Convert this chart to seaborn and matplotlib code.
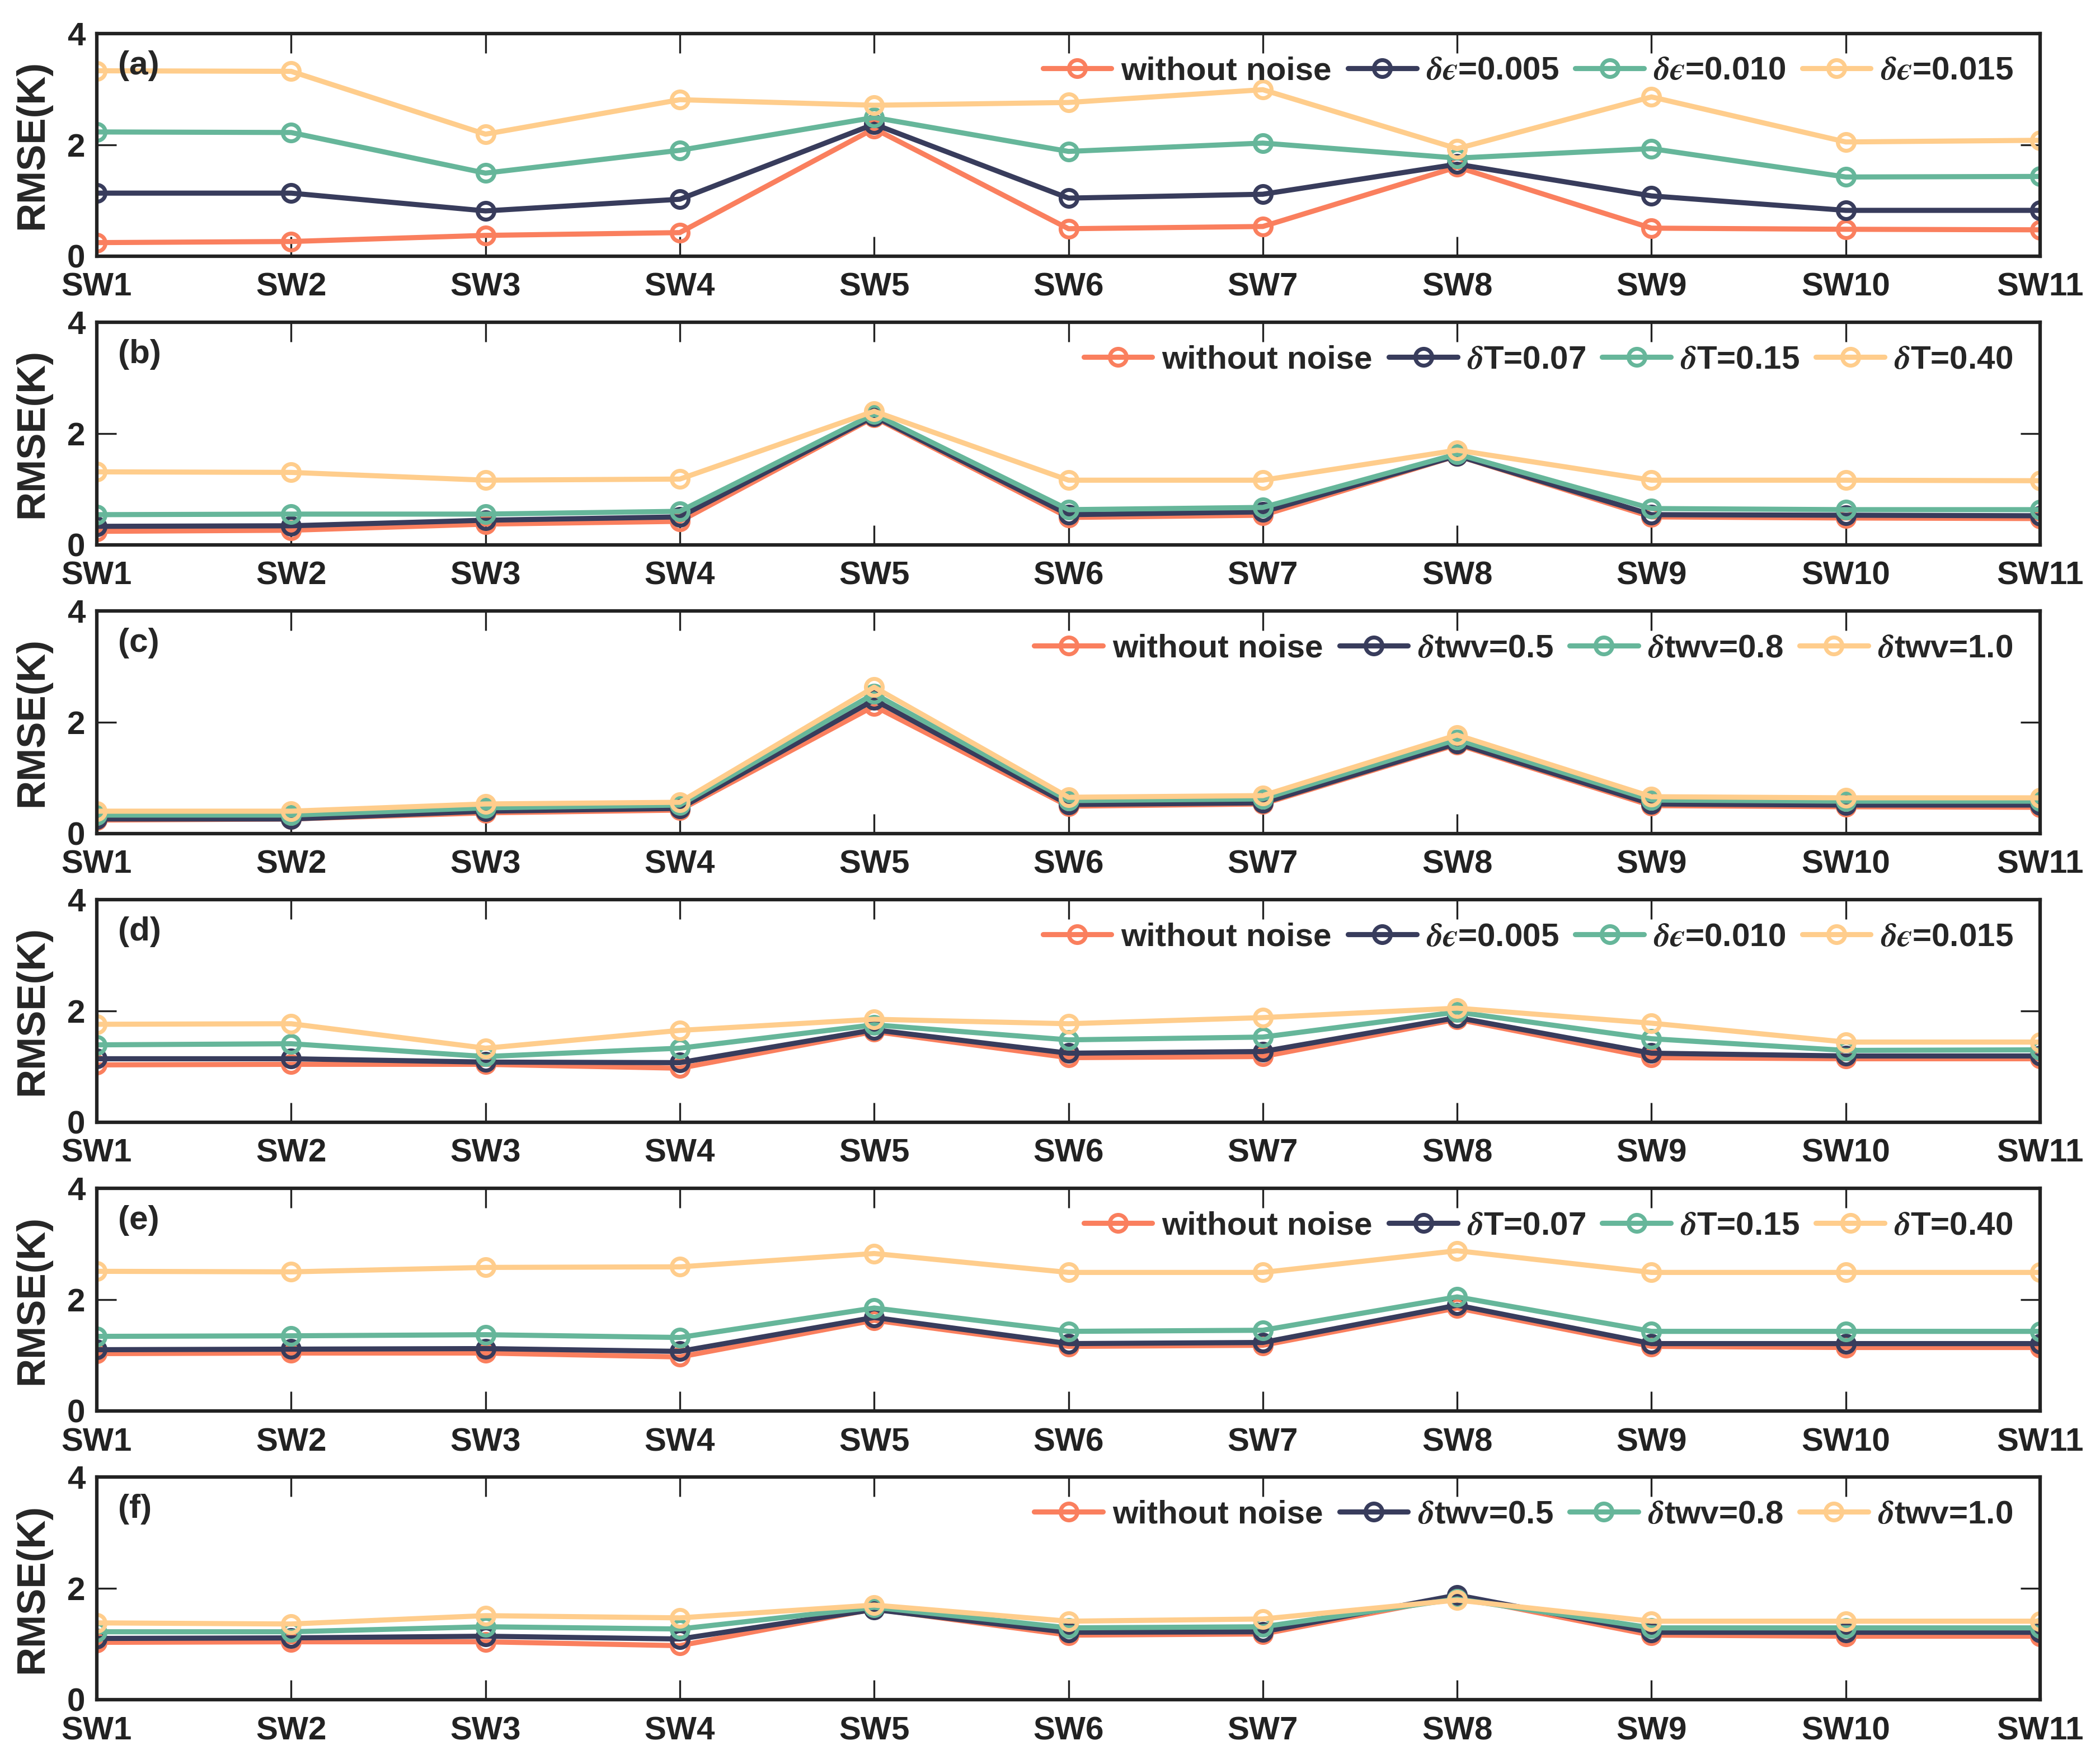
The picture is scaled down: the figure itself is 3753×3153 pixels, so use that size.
import numpy as np
import pandas as pd
import seaborn as sns
import matplotlib.pyplot as plt

# channels on the x axis
channels = ["SW1", "SW2", "SW3", "SW4", "SW5", "SW6", "SW7", "SW8", "SW9", "SW10", "SW11"]

# RMSE (K)
wo_noise_abc = [0.24, 0.26, 0.37, 0.42, 2.29, 0.49, 0.53, 1.60, 0.50, 0.48, 0.47]
wo_noise_def = [1.03, 1.04, 1.04, 0.97, 1.63, 1.16, 1.18, 1.85, 1.16, 1.14, 1.14]

a_eps005 = [1.13, 1.13, 0.81, 1.02, 2.37, 1.04, 1.11, 1.65, 1.08, 0.82, 0.82]
a_eps010 = [2.23, 2.22, 1.49, 1.90, 2.49, 1.88, 2.03, 1.76, 1.93, 1.42, 1.43]
a_eps015 = [3.33, 3.32, 2.19, 2.81, 2.71, 2.76, 2.99, 1.93, 2.86, 2.05, 2.08]

b_t007 = [0.33, 0.34, 0.44, 0.50, 2.31, 0.54, 0.59, 1.60, 0.54, 0.53, 0.52]
b_t015 = [0.54, 0.55, 0.55, 0.60, 2.35, 0.63, 0.67, 1.63, 0.65, 0.63, 0.63]
b_t040 = [1.31, 1.30, 1.16, 1.18, 2.40, 1.16, 1.16, 1.70, 1.16, 1.16, 1.15]

c_twv05 = [0.26, 0.26, 0.40, 0.45, 2.40, 0.52, 0.55, 1.62, 0.53, 0.51, 0.51]
c_twv08 = [0.33, 0.33, 0.46, 0.51, 2.51, 0.59, 0.62, 1.69, 0.60, 0.58, 0.58]
c_twv10 = [0.40, 0.40, 0.53, 0.56, 2.63, 0.65, 0.68, 1.77, 0.66, 0.64, 0.64]

d_eps005 = [1.14, 1.14, 1.08, 1.07, 1.66, 1.24, 1.27, 1.88, 1.24, 1.19, 1.19]
d_eps010 = [1.39, 1.41, 1.18, 1.33, 1.75, 1.48, 1.53, 1.98, 1.50, 1.29, 1.30]
d_eps015 = [1.76, 1.77, 1.33, 1.65, 1.85, 1.77, 1.88, 2.05, 1.78, 1.44, 1.44]

e_t007 = [1.10, 1.11, 1.12, 1.07, 1.68, 1.21, 1.23, 1.90, 1.21, 1.21, 1.21]
e_t015 = [1.34, 1.35, 1.37, 1.32, 1.85, 1.43, 1.45, 2.05, 1.43, 1.43, 1.43]
e_t040 = [2.51, 2.50, 2.58, 2.59, 2.83, 2.49, 2.49, 2.88, 2.49, 2.49, 2.49]

f_twv05 = [1.10, 1.11, 1.14, 1.09, 1.62, 1.21, 1.22, 1.88, 1.21, 1.21, 1.21]
f_twv08 = [1.22, 1.22, 1.31, 1.27, 1.66, 1.29, 1.31, 1.81, 1.29, 1.29, 1.29]
f_twv10 = [1.38, 1.36, 1.51, 1.47, 1.70, 1.41, 1.45, 1.79, 1.41, 1.41, 1.41]

eps_labels = ["without noise", "$\\delta\u03f5$=0.005", "$\\delta\u03f5$=0.010", "$\\delta\u03f5$=0.015"]
t_labels = ["without noise", r"$\delta$T=0.07", r"$\delta$T=0.15", r"$\delta$T=0.40"]
twv_labels = ["without noise", r"$\delta$twv=0.5", r"$\delta$twv=0.8", r"$\delta$twv=1.0"]

colors = ["#FA7F5E", "#383C5C", "#66B69A", "#FFCD8C"]

panels = [
    ("(a)", eps_labels, [wo_noise_abc, a_eps005, a_eps010, a_eps015]),
    ("(b)", t_labels, [wo_noise_abc, b_t007, b_t015, b_t040]),
    ("(c)", twv_labels, [wo_noise_abc, c_twv05, c_twv08, c_twv10]),
    ("(d)", eps_labels, [wo_noise_def, d_eps005, d_eps010, d_eps015]),
    ("(e)", t_labels, [wo_noise_def, e_t007, e_t015, e_t040]),
    ("(f)", twv_labels, [wo_noise_def, f_twv05, f_twv08, f_twv10]),
]

sns.set_theme(style="ticks")
plt.rcParams["font.family"] = ["Liberation Sans", "DejaVu Sans"]
plt.rcParams["font.weight"] = "bold"
plt.rcParams["mathtext.fontset"] = "stix"

fig = plt.figure(figsize=(3753 / 300, 3153 / 300), dpi=300)
gs = fig.add_gridspec(6, 1, left=0.0461, right=0.9715, top=0.981, bottom=0.0365, hspace=0.298)

x = np.arange(len(channels))

for i, (tag, labels, series) in enumerate(panels):
    ax = fig.add_subplot(gs[i])
    for vals, lab, col in zip(series, labels, colors):
        df = pd.DataFrame({"x": x, "rmse": vals})
        sns.lineplot(data=df, x="x", y="rmse", ax=ax, color=col, linewidth=2.2,
                     marker="o", markersize=7.2, markerfacecolor="none",
                     markeredgecolor=col, markeredgewidth=1.7, label=lab)

    ax.set_xlim(0, len(channels) - 1)
    ax.set_ylim(0, 4)
    ax.set_xticks(x)
    ax.set_xticklabels(channels)
    ax.set_yticks([0, 2, 4])
    ax.set_xlabel("")
    ax.set_ylabel("RMSE(K)", fontsize=17, fontweight="bold")
    ax.yaxis.set_label_coords(-0.0236, 0.5)
    ax.tick_params(axis="both", direction="in", top=True, right=True,
                   length=8.5, width=0.8, labelsize=14, colors="#222222")
    ax.tick_params(axis="x", pad=7)
    ax.tick_params(axis="y", pad=5)
    for sp in ax.spines.values():
        sp.set_linewidth(1.5)
        sp.set_color("#222222")

    ax.text(0.011, 0.856, tag, transform=ax.transAxes, fontsize=14.5,
            fontweight="bold", ha="left", va="center")

    ax.legend(loc="center right", bbox_to_anchor=(0.986, 0.83), ncol=4,
              frameon=False, fontsize=14, handlelength=2.1, handletextpad=0.3,
              columnspacing=0.5, borderaxespad=0, borderpad=0)

fig.savefig("out.png", dpi=300)
